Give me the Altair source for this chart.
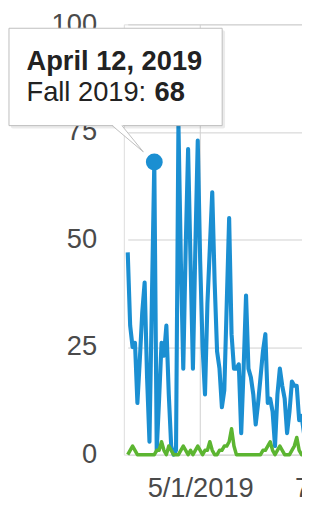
import altair as alt
import pandas as pd

# ---------------- data ----------------
START = "2019-04-01"
fall_2019 = [47, 30, 25, 26, 12, 22, 33, 40, 18, 3,
             36, 68, 1, 13, 26, 23, 30, 14, 2, 0,
             1, 77, 45, 20, 48, 71, 45, 20, 48, 73,
             45, 25, 14, 35, 48, 61, 40, 24, 20, 11,
             15, 35, 55, 28, 20, 20, 21, 5, 20, 37,
             20, 18, 14, 7, 12, 18, 24, 28, 12, 13,
             10, 2, 14, 20, 16, 13, 5, 10, 17, 16,
             16, 8, 9, 5, 10]
other_series = [0, 1, 2, 1, 0, 0, 0, 0, 0, 0,
                0, 0, 1, 1, 3, 1, 0, 2, 1, 0,
                0, 0, 1, 2, 1, 0, 1, 0, 1, 2,
                1, 0, 1, 1, 3, 1, 0, 0, 1, 1,
                2, 2, 3, 6, 2, 0, 0, 0, 0, 0,
                0, 0, 0, 0, 0, 0, 1, 1, 2, 3,
                1, 0, 1, 2, 1, 0, 0, 0, 1, 2,
                4, 1, 0, 0, 1]
x_ticks = ["2019-05-01", "2019-07-01"]
x_domain = ["2019-04-01", "2019-07-31"]
y_ticks = [0, 25, 50, 75, 100]

tooltip_day = "2019-04-12"
tooltip_title = "April 12, 2019"
tooltip_series = "Fall 2019: "
tooltip_value = 68

dates = pd.date_range(START, periods=len(fall_2019), freq="D").strftime("%Y-%m-%d").tolist()
blue_df = pd.DataFrame({"date": dates, "value": fall_2019})
green_df = pd.DataFrame({"date": dates, "value": other_series})
point_df = pd.DataFrame({"date": [tooltip_day], "value": [tooltip_value]})

# ---------------- styles ----------------
BLUE = "#1b8fd2"
GREEN = "#5cb531"
GRID = "#cfcfcf"
LABEL = "#4a4a4a"
FONT = "Liberation Sans"
PX_PER_DAY = 2.48
X_OFFSET = 4


def dt(s):
    y, m, d = map(int, s.split("-"))
    return alt.DateTime(year=y, month=m, date=d, utc=True)


n_days = (pd.Timestamp(x_domain[1]) - pd.Timestamp(x_domain[0])).days
x_enc = alt.X(
    "date:T",
    title=None,
    scale=alt.Scale(type="utc", domain=[dt(s) for s in x_domain], nice=False,
                    range=[X_OFFSET, X_OFFSET + n_days * PX_PER_DAY]),
    axis=alt.Axis(values=[dt(s) for s in x_ticks],
                  labelExpr="utcFormat(datum.value, '%-m/%-d/%Y')",
                  labelFontSize=28, labelFont=FONT, labelColor=LABEL, labelPadding=21,
                  ticks=False, domain=False, grid=True, gridColor=GRID, labelOverlap=False),
)
y_enc = alt.Y(
    "value:Q",
    title=None,
    scale=alt.Scale(domain=[0, 100], nice=False),
    axis=alt.Axis(values=y_ticks, labelFontSize=28, labelFont=FONT, labelColor=LABEL,
                  labelPadding=28, ticks=False, domain=False, grid=True, gridColor=GRID),
)

blue = alt.Chart(blue_df).mark_line(color=BLUE, strokeWidth=4.2, strokeJoin="round").encode(x=x_enc, y=y_enc)
green = alt.Chart(green_df).mark_line(color=GREEN, strokeWidth=3.6, strokeJoin="round").encode(x=x_enc, y=y_enc)
point = alt.Chart(point_df).mark_circle(size=300, color=BLUE, opacity=1).encode(x=x_enc, y=y_enc)

anno = alt.Chart(pd.DataFrame({"k": [0]}))
shadow = anno.mark_rect(fill="black", opacity=0.08, cornerRadius=2).encode(
    x=alt.value(-116), x2=alt.value(104), y=alt.value(6), y2=alt.value(107))
box = anno.mark_rect(fill="white", stroke="#bdbdbd", strokeWidth=1).encode(
    x=alt.value(-118), x2=alt.value(101), y=alt.value(4), y2=alt.value(104))
tail_fill = anno.mark_point(shape="M-12,103L-2,103L20,131Z", size=4, filled=True,
                            fill="white", opacity=1, strokeWidth=0).encode(
    x=alt.value(0), y=alt.value(0))
tail_l = anno.mark_rule(color="#bdbdbd", strokeWidth=1).encode(
    x=alt.value(-12), y=alt.value(104), x2=alt.value(20), y2=alt.value(131))
tail_r = anno.mark_rule(color="#bdbdbd", strokeWidth=1).encode(
    x=alt.value(-2), y=alt.value(104), x2=alt.value(20), y2=alt.value(131))
t1 = anno.mark_text(text=tooltip_title, font=FONT, fontSize=28, fontWeight="bold", color="#222",
                    align="left", baseline="alphabetic").encode(x=alt.value(-100), y=alt.value(46.5))
t2 = anno.mark_text(text=tooltip_series, font=FONT, fontSize=28, color="#222",
                    align="left", baseline="alphabetic").encode(x=alt.value(-100), y=alt.value(78.7))
t3 = anno.mark_text(text=str(tooltip_value), font=FONT, fontSize=28, fontWeight="bold", color="#222",
                    align="left", baseline="alphabetic").encode(x=alt.value(31.5), y=alt.value(78.7))

chart = alt.layer(blue, green, point, shadow, box, tail_fill, tail_l, tail_r, t1, t2, t3).properties(
    width=183,
    height=442,
    autosize=alt.AutoSizeParams(type="none"),
    padding={"left": 119, "top": 10, "right": 0, "bottom": 48},
).configure_view(stroke=None).configure(background="white")

chart.save("out.html", embed_options={"renderer": "svg", "actions": False})
